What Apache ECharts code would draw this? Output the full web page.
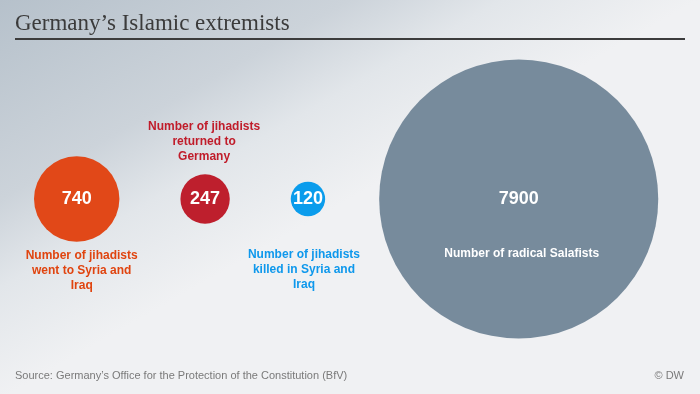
<!DOCTYPE html>
<html>
<head>
<meta charset="utf-8">
<script src="https://cdn.jsdelivr.net/npm/echarts@6/dist/echarts.min.js"></script>
<style>html,body{margin:0;padding:0;}#chart{width:700px;height:394px;}</style>
</head>
<body>
<div id="chart"></div>
<script>
// ---- data ----
const categories = [
  'Number of jihadists went to Syria and Iraq',
  'Number of jihadists returned to Germany',
  'Number of jihadists killed in Syria and Iraq',
  'Number of radical Salafists'
];
const labelLines = [
  'Number of jihadists\nwent to Syria and\nIraq',
  'Number of jihadists\nreturned to\nGermany',
  'Number of jihadists\nkilled in Syria and\nIraq',
  'Number of radical Salafists'
];
const values = [740, 247, 120, 7900];
const titleText = 'Germany\u2019s Islamic extremists';
const sourceText = 'Source: Germany\u2019s Office for the Protection of the Constitution (BfV)';
const creditText = '\u00a9 DW';

// ---- styles / layout ----
const circleColors = ['#e14818', '#be1f2d', '#0a9cec', '#778b9c'];
const textColors = ['#e0440f', '#c01c2a', '#0e98ec', '#ffffff'];
const sizeK = 3.14;          // diameter = k * sqrt(value)  (area-proportional)
const firstLeft = 34;
const gaps = [61, 61, 54];
const centerY = 199;
const labelPos = [
  {position: 'bottom', distance: 6, offset: [5, 0]},
  {position: 'top', distance: 10, offset: [-1, 0]},
  {position: 'bottom', distance: 31, offset: [-4, 0]},
  {position: 'inside', offset: [3, 55]}
];

const sizes = values.map(v => sizeK * Math.sqrt(v));
const xs = [];
let cursor = firstLeft;
sizes.forEach((s, i) => {
  xs.push(cursor + s / 2);
  cursor += s + (gaps[i] || 0);
});

const chart = echarts.init(document.getElementById('chart'), null, {renderer: 'canvas'});
const font = '"Liberation Sans", Arial, sans-serif';

const option = {
  animation: false,
  backgroundColor: new echarts.graphic.LinearGradient(0, 0, 172, 301, [
    {offset: 0, color: '#b6c1cb'},
    {offset: 0.5, color: '#ccd3da'},
    {offset: 0.72, color: '#e2e6ea'},
    {offset: 1, color: '#f0f1f3'}
  ], true),
  grid: {left: 0, right: 0, top: 0, bottom: 0},
  xAxis: {type: 'value', min: 0, max: 700, show: false},
  yAxis: {type: 'value', min: 0, max: 394, inverse: true, show: false},
  graphic: [
    {type: 'text', left: 15, top: 12, style: {text: titleText, font: '23px "Liberation Serif", "Times New Roman", serif', fill: '#3b3b3b'}},
    {type: 'line', shape: {x1: 15, y1: 39, x2: 685, y2: 39}, style: {stroke: '#3c3c3c', lineWidth: 2}},
    {type: 'text', left: 15, top: 370, style: {text: sourceText, font: '11px ' + font, fill: '#7a7a7a'}},
    {type: 'text', right: 16, top: 370, style: {text: creditText, font: '11px ' + font, fill: '#7a7a7a'}}
  ],
  series: [
    {
      type: 'scatter',
      silent: true,
      data: values.map((v, i) => ({
        name: categories[i],
        value: [xs[i], centerY, v],
        symbolSize: sizes[i],
        itemStyle: {color: circleColors[i], opacity: 1}
      })),
      label: {
        show: true, position: 'inside',
        formatter: p => String(p.value[2]),
        color: '#ffffff', fontSize: 18, fontWeight: 'bold', fontFamily: font,
        textBorderWidth: 0
      }
    },
    {
      type: 'scatter',
      silent: true,
      z: 3,
      data: values.map((v, i) => ({
        name: categories[i],
        value: [xs[i], centerY, v],
        symbolSize: sizes[i],
        itemStyle: {color: 'rgba(0,0,0,0)'},
        label: Object.assign({
          show: true,
          formatter: labelLines[i],
          color: textColors[i],
          opacity: 1,
          textBorderWidth: 0,
          fontSize: 12, fontWeight: 'bold', fontFamily: font,
          lineHeight: 15, align: 'center'
        }, labelPos[i])
      }))
    }
  ]
};
chart.setOption(option);
</script>
</body>
</html>
